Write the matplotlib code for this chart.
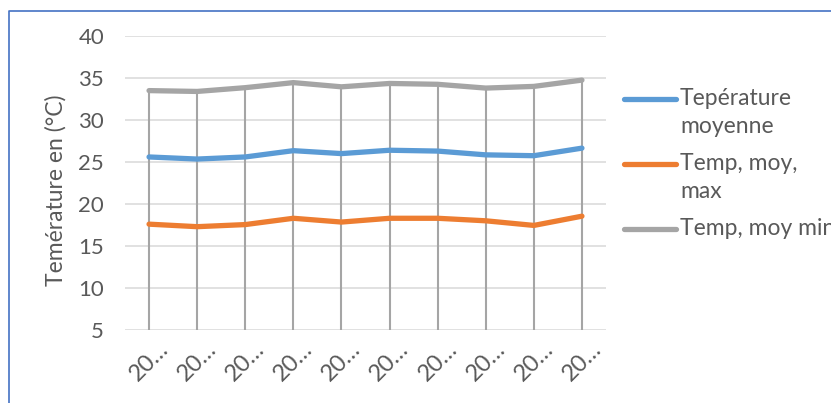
import matplotlib
matplotlib.use("Agg")
import matplotlib.pyplot as plt
from matplotlib.lines import Line2D

plt.rcParams['font.family'] = ['Lato', 'DejaVu Sans']

categories = ["20…", "20…", "20…", "20…", "20…", "20…", "20…", "20…", "20…", "20…"]
moyenne = [25.6, 25.35, 25.6, 26.35, 26.0, 26.4, 26.3, 25.85, 25.75, 26.65]
moy_max = [17.6, 17.3, 17.55, 18.3, 17.85, 18.3, 18.3, 18.0, 17.45, 18.55]
moy_min = [33.5, 33.4, 33.85, 34.45, 33.95, 34.35, 34.25, 33.8, 34.0, 34.75]
series_names = ["Tepérature\nmoyenne", "Temp, moy,\nmax", "Temp, moy min"]
y_ticks = [5, 10, 15, 20, 25, 30, 35, 40]
y_label = "Temérature en (°C)"

colors = ["#5B9BD5", "#ED7D31", "#A5A5A5"]
text_color = "#595959"

W, H = 831, 403
fig = plt.figure(figsize=(W / 100, H / 100), dpi=100)
fig.patch.set_facecolor("white")

def fx(px):
    return px / W

def fy(py):
    return 1 - py / H

ax = fig.add_axes([fx(125), fy(330), fx(606) - fx(125), fy(36) - fy(330)])
x = list(range(len(categories)))

# horizontal gridlines
ax.set_ylim(y_ticks[0], y_ticks[-1])
ax.set_yticks(y_ticks)
ax.yaxis.grid(True, color="#D9D9D9", linewidth=1.1, zorder=0)
ax.set_axisbelow(True)

# drop lines
tops = [max(a, b, c) for a, b, c in zip(moyenne, moy_max, moy_min)]
ax.vlines(x, y_ticks[0], tops, colors="#A5A5A5", linewidth=1.5, zorder=1)

series = [moyenne, moy_max, moy_min]
for vals, c in zip(series, colors):
    ax.plot(x, vals, color=c, linewidth=3.8, solid_capstyle="round",
            solid_joinstyle="round", zorder=3)

ax.set_xlim(-0.5, len(categories) - 0.5)
ax.set_xticks(x)
ax.set_xticklabels(categories, rotation=45, ha="center", va="top",
                   fontsize=17, color=text_color)
ax.tick_params(axis="x", length=0, pad=6)
ax.tick_params(axis="y", length=0, pad=15, labelsize=16, labelcolor=text_color)
for s in ax.spines.values():
    s.set_visible(False)

fig.text(fx(56), fy(190), y_label, rotation=90, ha="center", va="center",
         fontsize=16.5, color=text_color)

# legend
leg_y = [99, 164, 229]
for name, c, yy in zip(series_names, colors, leg_y):
    fig.add_artist(Line2D([fx(624), fx(676)], [fy(yy), fy(yy)], color=c,
                          linewidth=3.8, solid_capstyle="round",
                          transform=fig.transFigure))
    fig.text(fx(680), fy(yy - 11), name, ha="left", va="top",
             fontsize=16.5, color=text_color, linespacing=1.4)

# chart border (top and left visible)
fig.add_artist(Line2D([fx(8.5), fx(8.5), fx(W + 5)], [fy(H + 5), fy(10.5), fy(10.5)],
                      color="#4472C4", linewidth=1.2, transform=fig.transFigure))

fig.savefig("out.png", dpi=100, facecolor="white")
